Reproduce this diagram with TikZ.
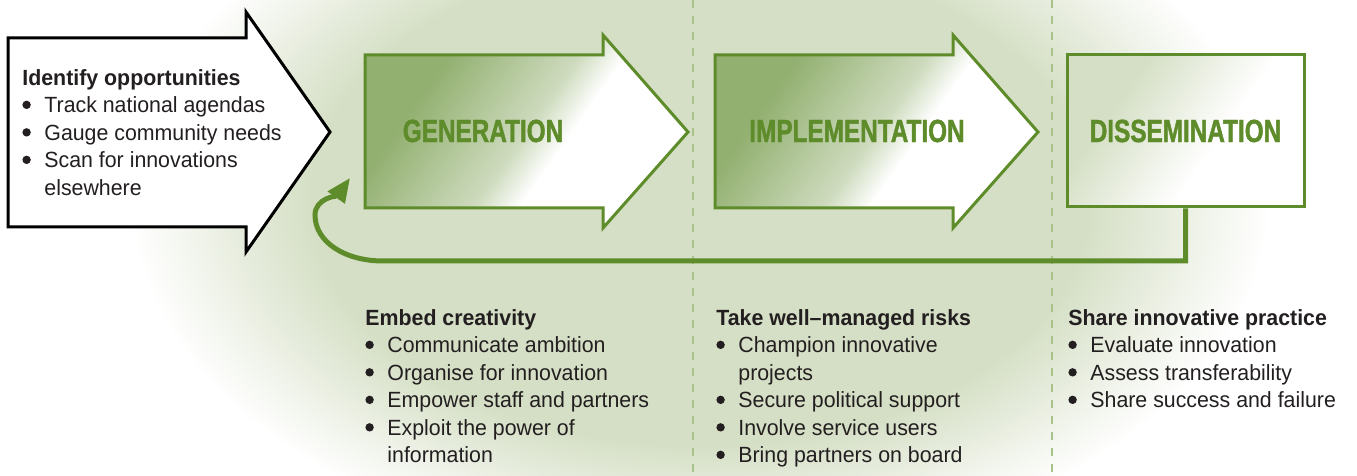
\documentclass[tikz,border=0pt]{standalone}
\usepackage{fontspec}
\setmainfont{Liberation Sans}[FakeStretch=0.97]
\newfontfamily\stagefont{Liberation Sans}[FakeStretch=0.76, BoldFeatures={FakeBold=1.4}]
\usetikzlibrary{arrows.meta}

\definecolor{leafgreen}{RGB}{94,140,43}
\definecolor{dashgreen}{RGB}{169,194,138}
\definecolor{bgcore}{RGB}{213,223,197}
\definecolor{gdark}{RGB}{146,176,112}
\definecolor{gmid}{RGB}{206,219,190}
\definecolor{inkgrey}{RGB}{35,31,32}

\pgfdeclareradialshading{glow}{\pgforigin}{color(0bp)=(bgcore); color(17bp)=(bgcore); color(25bp)=(white); color(50bp)=(white)}
\pgfdeclarehorizontalshading{stagefade}{100bp}{color(0bp)=(gdark); color(30bp)=(gdark); color(50bp)=(gmid); color(57bp)=(white); color(100bp)=(white)}
\pgfdeclarehorizontalshading{boxfade}{100bp}{color(0bp)=(bgcore); color(32bp)=(bgcore); color(58bp)=(white); color(100bp)=(white)}

\newcommand{\bul}{\makebox[11pt][l]{\tikz[baseline=0pt]\fill[inkgrey] (2.1pt,4pt) circle[radius=2.1pt];}}
\newcommand{\nobul}{\hspace*{11pt}}

\tikzset{
  startarrow/.style={draw=black, fill=white, line width=1.5pt, line join=miter},
  stagearrow/.style={draw=leafgreen, line width=1.5pt, line join=miter, shade, shading=stagefade, shading angle=-35},
  stagetitle/.style={inner sep=0, text=leafgreen, font=\stagefont\bfseries\fontsize{16pt}{16pt}\selectfont},
  dissbox/.style={stagetitle, draw=leafgreen, line width=1.5pt, shade, shading=boxfade, shading angle=-35,
    minimum width=118.5pt, minimum height=76pt},
  divider/.style={draw=dashgreen, line width=1pt, dash pattern=on 4pt off 4pt},
  feedback/.style={draw=leafgreen, line width=2.5pt, line join=miter, -{Triangle[length=12pt,width=10pt]}},
  listtext/.style={anchor=north west, inner sep=0, align=left, text=inkgrey,
    font=\fontsize{11pt}{13.75pt}\selectfont}
}

\begin{document}
\begin{tikzpicture}[x=0.5pt, y=-0.5pt]
  \useasboundingbox (0,0) rectangle (1357,476);
  \clip (0,0) rectangle (1357,476);

  % soft green glow behind everything
  \shade[shading=glow] (700,200) ellipse [x radius=570, y radius=360];

  % column dividers
  \draw[divider] (693,0) -- (693,476);
  \draw[divider] (1052,0) -- (1052,476);

  % opportunities arrow
  \path[startarrow] (8,38) -- (246,38) -- (246,12) -- (330,132) -- (246,252) -- (246,227) -- (8,227) -- cycle;

  % stage arrows
  \foreach \sx in {0,350}{
    \path[stagearrow, shift={(\sx,0)}] (365,55) -- (603,55) -- (603,35) -- (688,132)
      -- (603,228) -- (603,208) -- (365,208) -- cycle;
  }
  \node[stagetitle] (gen) at (483,131) {GENERATION};
  \node[stagetitle] (impl) at (857,131) {IMPLEMENTATION};
  \node[dissbox] (diss) at (1185.5,131) {DISSEMINATION};

  % loop back to generation
  \coordinate (fbturn) at (383,261);
  \coordinate (fbend) at (350,178);
  \draw[feedback] (diss.south) |- (fbturn) .. controls (345,261) and (315,242) .. (315,215)
    .. controls (315,198) and (338,195) .. (fbend);

  % lists
  \node[listtext] (opps) at (22,69) {\textbf{Identify opportunities}\\
    \bul Track national agendas\\
    \bul Gauge community needs\\
    \bul Scan for innovations\\
    \nobul elsewhere};
  \node[listtext] (embed) at (365,309) {\textbf{Embed creativity}\\
    \bul Communicate ambition\\
    \bul Organise for innovation\\
    \bul Empower staff and partners\\
    \bul Exploit the power of\\
    \nobul information};
  \node[listtext] (risks) at (716,309) {\textbf{Take well--managed risks}\\
    \bul Champion innovative\\
    \nobul projects\\
    \bul Secure political support\\
    \bul Involve service users\\
    \bul Bring partners on board};
  \node[listtext] (share) at (1068,309) {\textbf{Share innovative practice}\\
    \bul Evaluate innovation\\
    \bul Assess transferability\\
    \bul Share success and failure};
\end{tikzpicture}
\end{document}
